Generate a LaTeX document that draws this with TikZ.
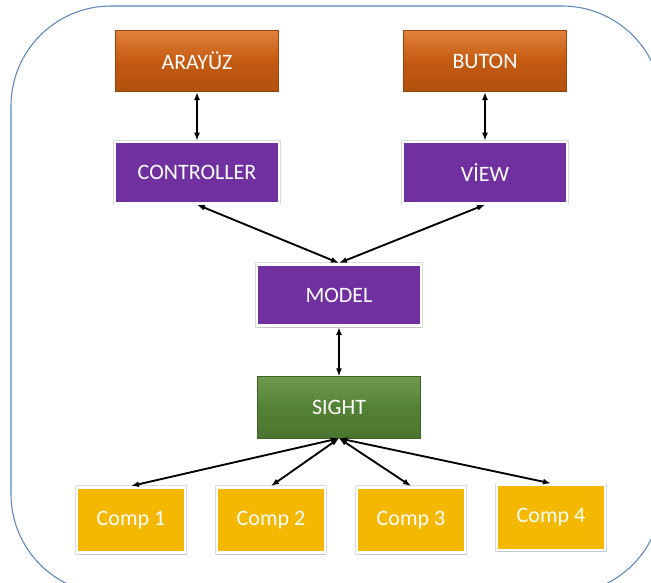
\documentclass[tikz,border=0pt]{standalone}
\usepackage{fontspec}
\setmainfont{Carlito}
\usepackage{xcolor}
\usepackage{tikz}
\usetikzlibrary{arrows.meta, positioning, shadows}

\definecolor{frameblue}{HTML}{5B86B5}
\definecolor{orangetop}{HTML}{E2823A}
\definecolor{orangemid}{HTML}{C55A11}
\definecolor{mvcpurple}{HTML}{7030A0}
\definecolor{greentop}{HTML}{6E9A4C}
\definecolor{greenmid}{HTML}{548235}
\definecolor{compyellow}{HTML}{F5B800}

\begin{document}
\begin{tikzpicture}[
  x=0.75pt, y=-0.75pt,
  box/.style={rectangle, inner sep=0pt, text=white, font=\fontsize{16.5}{18}\selectfont},
  bevelbox/.style={box, minimum width=122pt, minimum height=46pt,
    draw=#1!75!black, line width=0.5pt},
  orangebox/.style={bevelbox=orangemid, top color=orangetop, bottom color=orangemid!90!black, middle color=orangemid},
  greenbox/.style={bevelbox=greenmid, top color=greentop, bottom color=greenmid!90!black, middle color=greenmid},
  framedbox/.style={box, draw=white, line width=2pt,
    preaction={draw=black!14, line width=2.9pt},
    drop shadow={shadow xshift=1pt, shadow yshift=-1.5pt, opacity=0.22}},
  purplebox/.style={framedbox, minimum width=123pt, minimum height=46pt, fill=mvcpurple},
  compbox/.style={framedbox, minimum width=81pt, minimum height=49pt, fill=compyellow},
  conn/.style={{Latex[length=6pt,width=4.5pt]}-{Latex[length=6pt,width=4.5pt]}, line width=1.4pt}
]
\useasboundingbox (0,0) rectangle (651,583);
\draw[frameblue, line width=0.8pt, rounded corners=75pt] (11,6) rectangle (662,594);

\node[orangebox] (arayuz) at (197,61) {ARAYÜZ};
\node[orangebox, right=93.5pt of arayuz] (buton) {BUTON};
\node[purplebox, below=36.5pt of arayuz] (controller) {CONTROLLER};
\node[purplebox, below=36.5pt of buton] (view) {VİEW};
\node[purplebox] (model) at (339,295) {MODEL};
\node[greenbox, below=37pt of model] (sight) {SIGHT};
\node[compbox] (comp1) at (131,520) {Comp 1};
\node[compbox, right=22pt of comp1] (comp2) {Comp 2};
\node[compbox, right=22pt of comp2] (comp3) {Comp 3};
\node[compbox, right=22pt of comp3, yshift=2pt] (comp4) {Comp 4};

\draw[conn] (arayuz) -- (controller);
\draw[conn] (buton) -- (view);
\draw[conn] (controller.south) -- (model.north);
\draw[conn] (view.south) -- (model.north);
\draw[conn] (model) -- (sight);
\draw[conn] (sight.south) -- (comp1.north);
\draw[conn] (sight.south) -- (comp2.north);
\draw[conn] (sight.south) -- (comp3.north);
\draw[conn] (sight.south) -- (comp4.north);
\end{tikzpicture}
\end{document}
